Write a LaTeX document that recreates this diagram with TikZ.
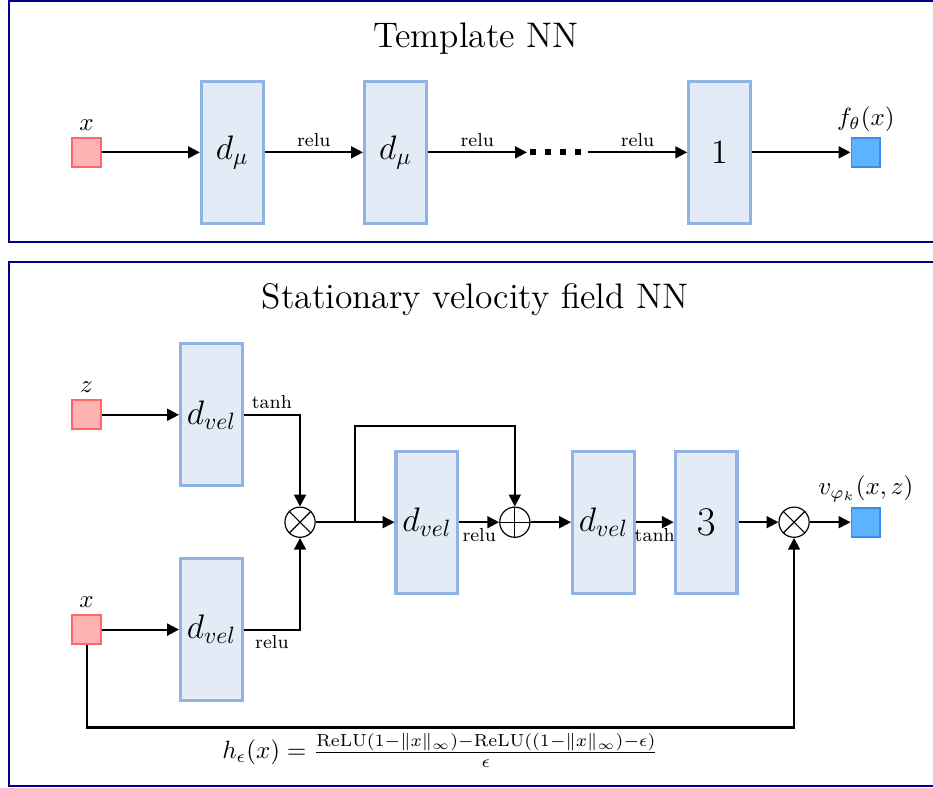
\documentclass[tikz,border=0pt]{standalone}
\usepackage{amsmath,amssymb}
\usepackage{tikz}
\usetikzlibrary{arrows.meta,calc,positioning}
\definecolor{navyframe}{RGB}{0,0,140}
\definecolor{layerfill}{RGB}{227,235,246}
\definecolor{layerdraw}{RGB}{143,180,227}
\definecolor{outfill}{RGB}{92,180,255}
\definecolor{outdraw}{RGB}{60,140,240}
\tikzset{
  panel/.style={line width=1pt,navyframe},
  ttl/.style={font=\Large,scale=1.045,transform shape},
  dense/.style={rectangle,draw=layerdraw,fill=layerfill,line width=1.3pt,
    minimum width=0.92cm,minimum height=2.12cm,inner sep=0pt,font=\Large},
  inp/.style={rectangle,draw=red!60,fill=red!30,line width=0.8pt,minimum size=0.43cm,inner sep=0pt},
  outp/.style={rectangle,draw=outdraw,fill=outfill,line width=0.8pt,minimum size=0.43cm,inner sep=0pt},
  arr/.style={line width=0.9pt,-{Triangle[length=5pt,width=5pt]}},
  act/.style={font=\footnotesize,inner sep=2pt},   % activation names
  mult/.style={circle,draw,line width=0.5pt,minimum size=0.45cm,inner sep=0pt},
  lbl/.style={inner sep=1pt,scale=1.06,transform shape},
}

\begin{document}
\begin{tikzpicture}
    \useasboundingbox (0,0) rectangle (13.90,-11.73);
    \draw[panel] (0.134,-0.005) rectangle (14.3,-3.61);
    \draw[panel] (0.134,-3.905) rectangle (14.3,-11.71);
    \begin{scope}
      \node[ttl] (ttop) at (7.09,-0.58) {Template NN};
      \node[inp] (xin) at (1.29,-2.27) {};
      \node[lbl,above=1.5pt of xin] (xlbl) {$x$};
      \node[dense] (l1) at (3.46,-2.27) {$d_\mu$};
      \node[dense] (l2) at (5.89,-2.27) {$d_\mu$};
      \node[dense] (l3) at (10.72,-2.27) {$1$};
      \node[outp] (fout) at (12.90,-2.27) {};
      \node[lbl,above=1pt of fout] (flbl) {$f_\theta(x)$};
      \coordinate (dotsA) at (7.85,-2.27);
      \coordinate (dotsB) at (8.76,-2.27);
      \draw[arr] (xin) -- (l1);
      \draw[arr] (l1) -- node[act,above] {relu} (l2);
      \draw[arr] (l2) -- node[act,above] {relu} (dotsA);
      \draw[line width=2.5pt,dash pattern=on 2.5pt off 3.85pt] (7.90,-2.27) -- (8.67,-2.27);
      \draw[arr] (dotsB) -- node[act,above] {relu} (l3);
      \draw[arr] (l3) -- (fout);
    \end{scope}
    \begin{scope}
      \node[ttl] (tbot) at (7.08,-4.47) {Stationary velocity field NN};
      \node[inp] (zin) at (1.29,-6.18) {};
      \node[lbl,above=1.5pt of zin] (zlbl) {$z$};
      \node[inp] (xb) at (1.29,-9.38) {};
      \node[lbl,above=1.5pt of xb] (xblbl) {$x$};
      \node[dense] (dz) at (3.15,-6.18) {$d_{vel}$};
      \node[dense] (dx) at (3.15,-9.38) {$d_{vel}$};
      \node[mult] (o1) at (4.47,-7.78) {};
      \draw[line width=0.5pt] (o1.north west) -- (o1.south east) (o1.north east) -- (o1.south west);
      \node[dense] (dm) at (6.36,-7.78) {$d_{vel}$};
      \node[mult] (op) at (7.67,-7.78) {};
      \draw[line width=0.5pt] (op.north) -- (op.south) (op.west) -- (op.east);
      \node[dense] (dt) at (8.99,-7.78) {$d_{vel}$};
      \node[dense,font=\LARGE] (d3) at (10.52,-7.78) {$3$};
      \node[mult] (o2) at (11.83,-7.78) {};
      \draw[line width=0.5pt] (o2.north west) -- (o2.south east) (o2.north east) -- (o2.south west);
      \node[outp] (vout) at (12.90,-7.78) {};
      \node[lbl,above=1pt of vout] (vlbl) {$v_{\varphi_k}(x,z)$};
      \coordinate (br) at ($(o1.east)!0.5!(dm.west)$);
      \draw[arr] (zin) -- (dz);
      \draw[arr] (xb) -- (dx);
      \draw[arr] (dz.east) -| node[act,above,pos=0.25] {tanh} (o1.north);
      \draw[arr] (dx.east) -| node[act,below,pos=0.25] {relu} (o1.south);
      \draw[arr] (o1) -- (dm);
      \draw[arr] (br) -- ++(0,1.43) -| (op.north);
      \draw[arr] (dm) -- node[act,below] {relu} (op);
      \draw[arr] (op) -- (dt);
      \draw[arr] (dt) -- node[act,below] {tanh} (d3);
      \draw[arr] (d3) -- (o2);
      \draw[arr] (o2) -- (vout);
      \draw[arr] (xb.south) -- ++(0,-1.23) -| (o2.south);
      \node[lbl] (heps) at (6.56,-11.18)
        {$h_\epsilon(x) = \frac{\mathrm{ReLU}(1-\|x\|_\infty)-\mathrm{ReLU}((1-\|x\|_\infty)-\epsilon)}{\epsilon}$};
    \end{scope}
\end{tikzpicture}
\end{document}
